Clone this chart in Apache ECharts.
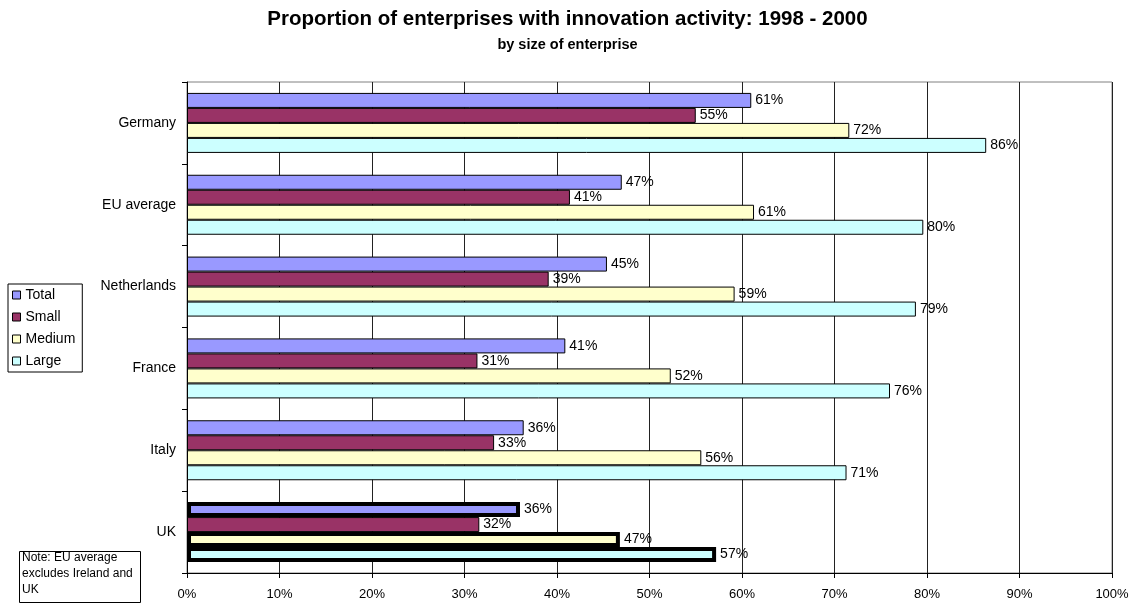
<!DOCTYPE html>
<html>
<head>
<meta charset="utf-8">
<script src="https://cdn.jsdelivr.net/npm/echarts@6/dist/echarts.min.js"></script>
<style>
  html, body { margin: 0; padding: 0; background: #fff; }
  #chart { width: 1135px; height: 605px; }
</style>
</head>
<body>
<div id="chart"></div>
<script>
// Countries, listed top to bottom
const countries = ['Germany', 'EU average', 'Netherlands', 'France', 'Italy', 'UK'];

// Share of enterprises with innovation activity (%), by size band
const totalValues  = [61.0, 47.0, 45.4, 40.9, 36.4, 36.0];
const smallValues  = [55.0, 41.4, 39.1, 31.4, 33.2, 31.6];
const mediumValues = [71.6, 61.3, 59.2, 52.3, 55.6, 46.8];
const largeValues  = [86.4, 79.6, 78.8, 76.0, 71.3, 57.2];

const seriesNames = ['Total', 'Small', 'Medium', 'Large'];
const xTicks = [0, 10, 20, 30, 40, 50, 60, 70, 80, 90, 100];

const FONT = "'Liberation Sans', Arial, sans-serif";
const colors = ['#9999FF', '#993366', '#FFFFCC', '#CCFFFF'];
// UK bars outlined heavily (all but the small-enterprise bar)
const heavyOutline = { Total: true, Small: false, Medium: true, Large: true };
const ukIndex = countries.indexOf('UK');

function buildSeries(name, values, idx) {
  return {
    name: name,
    type: 'bar',
    barWidth: 15,
    barGap: '0%',
    itemStyle: { color: colors[idx], borderColor: '#000', borderWidth: 1 },
    label: {
      show: true,
      position: 'right',
      distance: 4,
      color: '#000',
      fontFamily: FONT,
      fontSize: 14,
      formatter: p => Math.round(p.value) + '%'
    },
    data: values.map((v, i) =>
      (i === ukIndex && heavyOutline[name])
        ? { value: v, itemStyle: { borderWidth: 4 } }
        : v)
  };
}

const chart = echarts.init(document.getElementById('chart'), null, { renderer: 'canvas' });

chart.setOption({
  animation: false,
  backgroundColor: '#fff',
  color: colors,
  textStyle: { fontFamily: FONT },
  title: {
    text: 'Proportion of enterprises with innovation activity: 1998 - 2000',
    subtext: 'by size of enterprise',
    left: 'center',
    top: 4,
    itemGap: 7,
    textStyle: { fontFamily: FONT, fontSize: 20.5, fontWeight: 'bold', color: '#000' },
    subtextStyle: { fontFamily: FONT, fontSize: 14.5, fontWeight: 'bold', color: '#000' }
  },
  legend: {
    orient: 'vertical',
    left: 8,
    top: 284,
    padding: [4, 7, 4, 4],
    itemWidth: 8,
    itemHeight: 8,
    itemGap: 8,
    icon: 'rect',
    borderColor: '#000',
    borderWidth: 1,
    backgroundColor: '#fff',
    itemStyle: { borderColor: '#000', borderWidth: 1 },
    textStyle: { fontFamily: FONT, fontSize: 14, color: '#000', lineHeight: 14 },
    data: seriesNames
  },
  grid: {
    left: 187,
    right: 23,
    top: 82,
    bottom: 32,
    show: true,
    borderColor: '#808080',
    borderWidth: 1,
    containLabel: false
  },
  xAxis: {
    type: 'value',
    min: xTicks[0],
    max: xTicks[xTicks.length - 1],
    interval: 10,
    axisLine: { show: true, lineStyle: { color: '#000', width: 1 } },
    axisTick: { show: true, length: 5, lineStyle: { color: '#000' } },
    splitLine: { show: true, lineStyle: { color: '#222', width: 1 } },
    axisLabel: {
      color: '#000', fontFamily: FONT, fontSize: 13, margin: 15,
      formatter: v => v + '%'
    }
  },
  yAxis: {
    type: 'category',
    inverse: true,
    data: countries,
    axisLine: { show: true, lineStyle: { color: '#000', width: 1 } },
    axisTick: { show: true, length: 5, lineStyle: { color: '#000' } },
    axisLabel: { color: '#000', fontFamily: FONT, fontSize: 14, margin: 11 }
  },
  graphic: [
    {
      type: 'rect',
      left: 19,
      top: 551,
      shape: { width: 121, height: 51 },
      style: { fill: '#fff', stroke: '#000', lineWidth: 1 }
    },
    {
      type: 'text',
      left: 22,
      top: 550,
      style: {
        text: 'Note: EU average\nexcludes Ireland and\nUK',
        font: '12px ' + FONT,
        lineHeight: 15.7,
        fill: '#000'
      }
    }
  ],
  series: [
    buildSeries('Total', totalValues, 0),
    buildSeries('Small', smallValues, 1),
    buildSeries('Medium', mediumValues, 2),
    buildSeries('Large', largeValues, 3)
  ]
});
</script>
</body>
</html>
